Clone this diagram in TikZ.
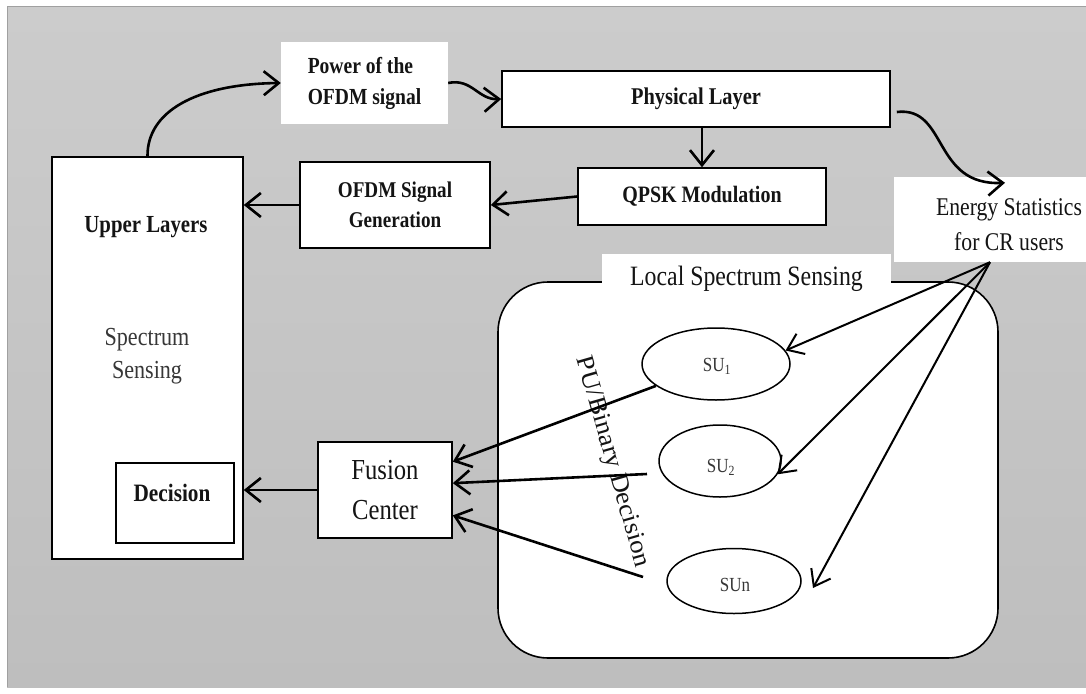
\documentclass[tikz,border=0pt]{standalone}
\usepackage{fontspec}
\setmainfont{Liberation Serif}
\newfontfamily\cond[FakeStretch=0.85]{Liberation Serif}
\newfontfamily\widefont[FakeStretch=1.08]{Liberation Serif}
\usetikzlibrary{arrows.meta,shapes.geometric,calc}
\definecolor{bgtop}{RGB}{204,204,204}
\definecolor{bgbot}{RGB}{190,190,190}
\definecolor{framec}{RGB}{160,160,160}
\definecolor{ink}{RGB}{20,20,20}
\definecolor{softink}{RGB}{55,55,55}
\tikzset{
  box/.style={draw=black, line width=1.6pt, fill=white, inner sep=0pt, text=ink},
  plainbox/.style={fill=white, inner sep=0pt, text=ink},
  ellbox/.style={ellipse, draw=black, line width=1.5pt, fill=white, inner sep=0pt},
  bt/.style n args={2}{font={\cond\bfseries\fontsize{#1}{#2}\selectfont}},
  rt/.style n args={2}{font={\cond\fontsize{#1}{#2}\selectfont}},
  conn/.style={line width=2.6pt, -{Straight Barb[length=15pt,width=24pt]}},
  fanconn/.style={line width=2pt, -{Straight Barb[length=15pt,width=22pt]}},
}
\begin{document}
\begin{tikzpicture}[x=1pt,y=-1pt]
\useasboundingbox (0,0) rectangle (1086,693);
\fill[white] (0,0) rectangle (1086,693);
\shade[top color=bgtop, bottom color=bgbot] (7,7) rectangle (1086,687);
\draw[framec, line width=1pt] (7,687) -- (7,7) -- (1086,7);

% Local spectrum sensing group
\node[box, rounded corners=50pt, minimum width=500pt, minimum height=376pt] (lss) at (748,470) {};
\node[plainbox, minimum width=289pt, minimum height=50pt, rt={28}{28}] (lssl) at (746.5,279) {Local Spectrum Sensing};

% Boxes
\node[box, minimum width=191pt, minimum height=402pt] (ul) at (147.5,358) {};
\node[bt={24.5}{24.5}, text=ink] (ult) at (146,227) {Upper Layers};
\node[rt={26}{33}, text=softink, align=center] (sst) at (147,356) {Spectrum\\Sensing};
\node[box, minimum width=118pt, minimum height=80pt] (dec) at (175,503) {};
\node[bt={25}{25}, text=ink] (dect) at (172,493) {Decision};

\node[plainbox, minimum width=167pt, minimum height=82pt, bt={23}{31}, align=left] (pw) at (364.5,83) {Power of the\\OFDM signal};
\node[box, minimum width=388pt, minimum height=56pt, bt={24}{24}] (pl) at (696,99) {Physical Layer};
\node[box, minimum width=190pt, minimum height=86pt, bt={22.5}{30}, align=center] (og) at (395,205) {OFDM Signal\\Generation};
\node[box, minimum width=248pt, minimum height=57pt, bt={23.5}{23.5}] (qp) at (702,196.5) {QPSK Modulation};
\node[plainbox, minimum width=192pt, minimum height=85pt] (es) at (990,219.5) {};
\node[rt={25.5}{35}, text=ink, align=center] (est) at (1009,224.5) {Energy Statistics\\for CR users};

\node[box, minimum width=134pt, minimum height=96pt, rt={29}{40}, align=center] (fc) at (385,490) {Fusion\\Center};

% Secondary users
\node[ellbox, minimum width=148pt, minimum height=72pt] (su1) at (716,364) {};
\node[rt={20}{20}, text=softink] at (717,366) {SU\textsubscript{1}};
\node[ellbox, minimum width=122pt, minimum height=72pt] (su2) at (720,461) {};
\node[rt={20}{20}, text=softink] at (721,467) {SU\textsubscript{2}};
\node[ellbox, minimum width=134pt, minimum height=65pt] (sun) at (734,581) {};
\node[rt={20}{20}, text=softink] at (735,585) {SUn};

\node[font={\widefont\fontsize{25}{25}\selectfont}, text=ink, rotate=-74, inner sep=0pt] (pub) at (612,462) {PU/Binary Decision};

% free ends
\coordinate (s2) at (647,474);
\coordinate (s3) at (643,577);
\coordinate (snt) at (813,588);

% connectors
\draw[conn] (ul.north) .. controls (147,112) and (195,84) .. (pw.west);
\draw[conn] (pw.east) .. controls (472,78) and (478,100) .. (pl.west);
\draw[conn] ([xshift=6pt,yshift=-13pt]pl.east) .. controls (948,106) and (932,186) .. ([xshift=15pt,yshift=-6pt]es.north);
\draw[conn] (qp.north |- pl.south) -- (qp.north);
\draw[conn] (qp.west) -- (og.east);
\draw[conn] (og.west) -- (og.west -| ul.east);

\draw[fanconn] (es.south) -- (su1.11);
\draw[fanconn] (es.south) -- (su2.-13);
\draw[fanconn] (es.south) -- (snt);

\draw[conn] (su1.200) -- ($(fc.north east)!0.21!(fc.south east)$);
\draw[conn] (s2) -- ($(fc.north east)!0.43!(fc.south east)$);
\draw[conn] (s3) -- ($(fc.north east)!0.76!(fc.south east)$);
\draw[conn] (fc.west) -- (fc.west -| ul.east);
\end{tikzpicture}
\end{document}
